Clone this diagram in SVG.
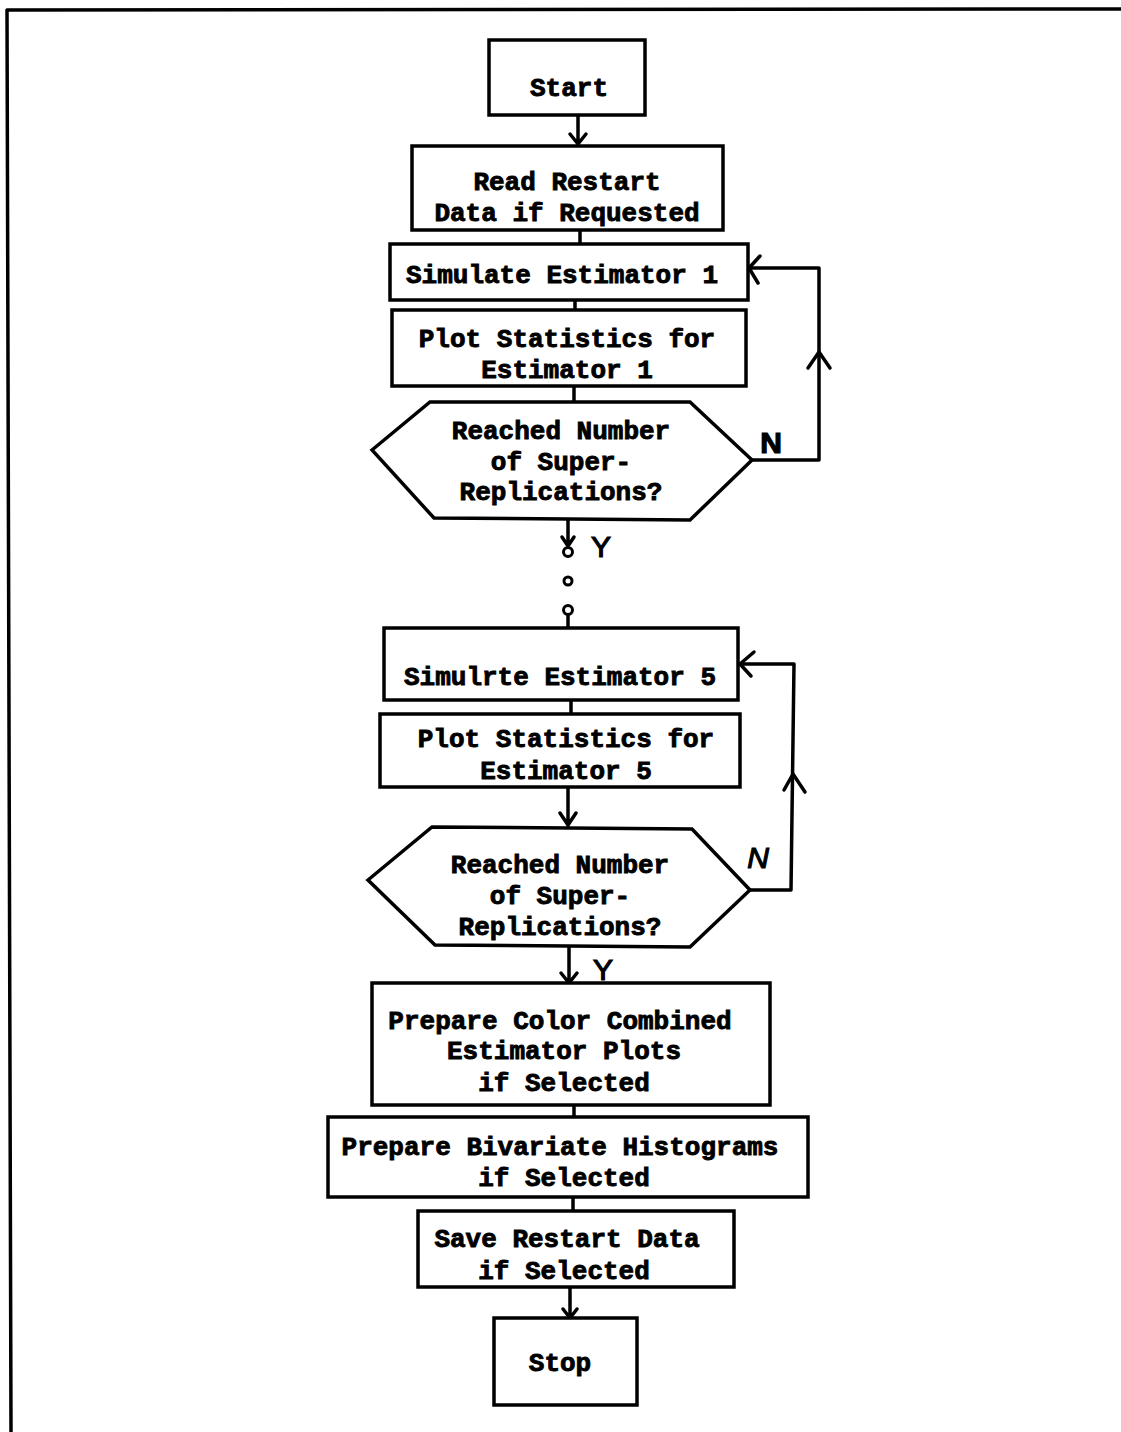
<svg xmlns="http://www.w3.org/2000/svg" width="1121" height="1432" viewBox="0 0 1121 1432">
  <style>
    .box { fill: #fff; stroke: #000; stroke-width: 3.5; stroke-linejoin: miter; }
    .line { fill: none; stroke: #000; stroke-width: 3.5; stroke-linecap: round; stroke-linejoin: round; }
    .txt { font-family: "Liberation Mono", "DejaVu Sans Mono", monospace; font-weight: bold; font-size: 26px; fill: #000; stroke: #000; stroke-width: 0.9; text-anchor: middle; }
    .lbl { font-family: "Liberation Sans", "DejaVu Sans", sans-serif; font-size: 30px; fill: #000; stroke: #000; stroke-width: 1.2; text-anchor: middle; }
  </style>

  <rect width="1121" height="1432" fill="#fff"/>

  <!-- page frame: top and left edges -->
  <path class="line" d="M7 10 L1121 9 M7 10 L11 1432" stroke-width="4"/>

  <!-- connectors -->
  <g id="connectors">
    <!-- Start -> Read -->
    <path class="line" d="M578 115 L578 146 M570 134 L578 144 L586 134"/>
    <!-- Read -> Simulate 1 -->
    <path class="line" d="M580 230 L580 244"/>
    <!-- Simulate 1 -> Plot 1 -->
    <path class="line" d="M575 300 L575 310"/>
    <!-- Plot 1 -> Decision 1 -->
    <path class="line" d="M574 386 L574 402"/>
    <!-- Decision 1 N loop -->
    <path class="line" d="M752 460 L819 460 L819 268 L749 268"/>
    <path class="line" d="M760 256 L749 268 L758 283"/>
    <path class="line" d="M808 368 L819 352 L830 368"/>
    <!-- Decision 1 Y -> continuation dots -->
    <path class="line" d="M568 520 L568 546 M562 537 L568 546 L574 537"/>
    <circle cx="568" cy="552" r="4.5" fill="#fff" stroke="#000" stroke-width="3"/>
    <circle cx="568" cy="581" r="4" fill="#fff" stroke="#000" stroke-width="3"/>
    <circle cx="568" cy="610" r="4.5" fill="#fff" stroke="#000" stroke-width="3"/>
    <path class="line" d="M568 615 L568 628"/>
    <!-- Simulate 5 -> Plot 5 -->
    <path class="line" d="M571 700 L571 714"/>
    <!-- Plot 5 -> Decision 2 -->
    <path class="line" d="M568 787 L568 826 M560 813 L568 825 L576 813"/>
    <!-- Decision 2 N loop -->
    <path class="line" d="M750 890 L791 890 L794 664 L740 664"/>
    <path class="line" d="M754 652 L740 664 L751 676"/>
    <path class="line" d="M784 790 L793 774 L805 792"/>
    <!-- Decision 2 Y -> Prepare Color -->
    <path class="line" d="M569 947 L569 984 M561 973 L569 983 L577 973"/>
    <!-- Prepare Color -> Bivariate -->
    <path class="line" d="M574 1105 L574 1117"/>
    <!-- Bivariate -> Save -->
    <path class="line" d="M573 1197 L573 1211"/>
    <!-- Save -> Stop -->
    <path class="line" d="M570 1287 L570 1319 M563 1309 L570 1318 L577 1309"/>
    <!-- branch labels -->
    <text class="lbl" x="771" y="453" font-weight="bold" font-size="24">N</text>
    <text class="lbl" x="601" y="557">Y</text>
    <text class="lbl" x="758" y="868" font-style="italic" font-size="26">N</text>
    <text class="lbl" x="603" y="980" font-size="26">Y</text>
  </g>

  <g id="start">
    <rect class="box" x="489" y="40" width="156" height="75"/>
    <text class="txt" x="569" y="96">Start</text>
  </g>

  <g id="read-restart">
    <rect class="box" x="412" y="146" width="311" height="84"/>
    <text class="txt" x="567" y="190">Read Restart</text>
    <text class="txt" x="567" y="221">Data if Requested</text>
  </g>

  <g id="simulate-1">
    <rect class="box" x="390" y="244" width="358" height="56"/>
    <text class="txt" x="562" y="283">Simulate Estimator 1</text>
  </g>

  <g id="plot-1">
    <rect class="box" x="392" y="310" width="354" height="76"/>
    <text class="txt" x="567" y="347">Plot Statistics for</text>
    <text class="txt" x="567" y="378">Estimator 1</text>
  </g>

  <g id="decision-1">
    <polygon class="box" points="372,450 430,402 690,402 752,460 690,520 434,518"/>
    <text class="txt" x="561" y="439">Reached Number</text>
    <text class="txt" x="561" y="470">of Super-</text>
    <text class="txt" x="561" y="500">Replications?</text>
  </g>

  <g id="simulate-5">
    <rect class="box" x="384" y="628" width="354" height="72"/>
    <text class="txt" x="560" y="685">Simulrte Estimator 5</text>
  </g>

  <g id="plot-5">
    <rect class="box" x="380" y="714" width="360" height="73"/>
    <text class="txt" x="566" y="747">Plot Statistics for</text>
    <text class="txt" x="566" y="779">Estimator 5</text>
  </g>

  <g id="decision-2">
    <polygon class="box" points="368,880 432,827 692,829 750,890 690,947 435,945"/>
    <text class="txt" x="560" y="873">Reached Number</text>
    <text class="txt" x="560" y="904">of Super-</text>
    <text class="txt" x="560" y="935">Replications?</text>
  </g>

  <g id="prepare-color">
    <rect class="box" x="372" y="983" width="398" height="122"/>
    <text class="txt" x="560" y="1029">Prepare Color Combined</text>
    <text class="txt" x="564" y="1059">Estimator Plots</text>
    <text class="txt" x="564" y="1091">if Selected</text>
  </g>

  <g id="prepare-bivariate">
    <rect class="box" x="328" y="1117" width="480" height="80"/>
    <text class="txt" x="560" y="1155">Prepare Bivariate Histograms</text>
    <text class="txt" x="564" y="1186">if Selected</text>
  </g>

  <g id="save-restart">
    <rect class="box" x="418" y="1211" width="316" height="76"/>
    <text class="txt" x="567" y="1247">Save Restart Data</text>
    <text class="txt" x="564" y="1279">if Selected</text>
  </g>

  <g id="stop">
    <rect class="box" x="494" y="1318" width="143" height="87"/>
    <text class="txt" x="560" y="1371">Stop</text>
  </g>
</svg>
